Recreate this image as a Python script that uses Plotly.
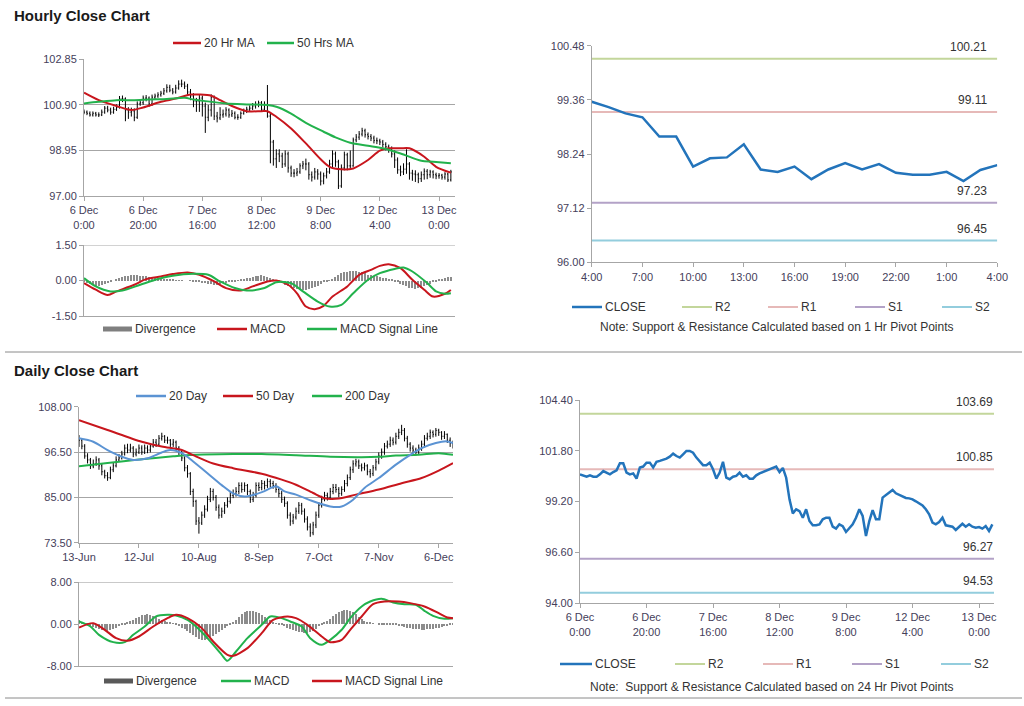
import plotly.graph_objects as go

W, H = 1024, 706
def px(x): return x / W
def py(y): return 1 - y / H

# ======================= DATA =======================
hourly_tick_hours = [0, 20, 40, 60, 80, 100, 120]
hourly_tick_labels = ["6 Dec<br>0:00", "6 Dec<br>20:00", "7 Dec<br>16:00", "8 Dec<br>12:00",
                      "9 Dec<br>8:00", "12 Dec<br>4:00", "13 Dec<br>0:00"]

hourly_first_open = 100.62
hourly_close = [100.59, 100.54, 100.47, 100.54, 100.47, 100.47, 100.59, 100.76, 100.68, 100.59,
                100.71, 100.80, 101.16, 101.16, 100.68, 100.59, 100.64, 100.37, 100.94, 100.99,
                101.19, 101.19, 100.94, 101.23, 101.28, 101.33, 101.40, 101.50, 101.65, 101.53,
                101.45, 101.62, 101.79, 101.79, 101.70, 101.45, 101.28, 101.06, 101.06, 101.19,
                100.85, 100.37, 100.68, 101.23, 100.42, 100.34, 100.47, 100.51, 100.68, 100.47,
                100.54, 100.37, 100.37, 100.54, 100.64, 100.71, 100.76, 100.85, 100.92, 100.99,
                100.71, 100.92, 100.42, 99.31, 98.59, 98.80, 98.71, 98.37, 98.80, 98.20,
                97.98, 97.98, 98.03, 98.29, 98.37, 98.37, 97.91, 97.81, 98.03, 97.94,
                97.64, 97.86, 98.03, 98.37, 98.80, 98.46, 97.43, 98.20, 98.76, 98.29,
                98.29, 99.40, 99.52, 99.65, 99.79, 99.62, 99.55, 99.48, 99.38, 99.36,
                99.31, 99.21, 99.11, 99.00, 98.80, 98.54, 98.12, 98.03, 98.15, 98.37,
                97.98, 97.94, 97.91, 97.74, 97.91, 98.06, 97.91, 98.03, 97.91, 97.86,
                97.89, 97.81, 97.94, 97.69, 98.03]
hourly_high = [100.70, 100.66, 100.62, 100.62, 100.60, 100.58, 100.70, 100.85, 100.86, 100.78,
               100.82, 100.92, 101.28, 101.30, 101.22, 100.80, 100.78, 100.75, 101.05, 101.10,
               101.30, 101.32, 101.26, 101.34, 101.38, 101.44, 101.50, 101.62, 101.78, 101.76,
               101.62, 101.76, 101.95, 101.98, 101.90, 101.80, 101.58, 101.40, 101.20, 101.35,
               101.30, 101.00, 100.90, 101.35, 101.30, 100.60, 100.80, 100.70, 100.80, 100.75,
               100.68, 100.62, 100.50, 100.62, 100.74, 100.82, 100.88, 100.98, 101.05, 101.08,
               101.06, 101.05, 101.75, 100.55, 99.40, 99.00, 99.00, 98.85, 98.95, 98.90,
               98.30, 98.15, 98.20, 98.40, 98.50, 98.60, 98.45, 98.05, 98.20, 98.15,
               98.05, 98.00, 98.20, 98.55, 98.95, 98.90, 98.55, 98.35, 98.90, 98.85,
               98.95, 99.50, 99.65, 99.78, 99.92, 99.88, 99.72, 99.65, 99.58, 99.50,
               99.45, 99.40, 99.30, 99.20, 99.12, 98.95, 98.65, 98.30, 98.40, 99.00,
               98.45, 98.12, 98.10, 98.00, 98.05, 98.18, 98.15, 98.12, 98.10, 98.00,
               97.98, 97.95, 98.02, 98.00, 98.12]
hourly_low = [100.50, 100.46, 100.40, 100.40, 100.40, 100.38, 100.42, 100.52, 100.58, 100.48,
              100.52, 100.64, 100.74, 101.02, 100.20, 100.30, 100.40, 100.20, 100.30, 100.86,
              100.90, 101.05, 100.82, 100.86, 101.14, 101.20, 101.25, 101.32, 101.42, 101.44,
              101.35, 101.38, 101.55, 101.66, 101.58, 101.30, 101.10, 100.80, 100.60, 100.60,
              100.40, 99.70, 100.20, 100.40, 100.25, 100.15, 100.25, 100.35, 100.40, 100.35,
              100.38, 100.28, 100.26, 100.30, 100.48, 100.55, 100.62, 100.68, 100.74, 100.80,
              100.62, 100.65, 100.35, 98.40, 98.30, 98.20, 98.45, 98.20, 98.25, 98.00,
              97.82, 97.80, 97.85, 97.95, 98.15, 98.10, 97.70, 97.62, 97.70, 97.70,
              97.45, 97.50, 97.75, 97.95, 98.20, 98.25, 97.30, 97.35, 98.10, 98.10,
              98.15, 98.25, 99.30, 99.40, 99.55, 99.50, 99.42, 99.35, 99.25, 99.22,
              99.18, 99.08, 98.95, 98.85, 98.65, 98.20, 97.95, 97.85, 97.90, 97.95,
              97.70, 97.65, 97.60, 97.55, 97.60, 97.70, 97.72, 97.78, 97.75, 97.72,
              97.74, 97.70, 97.70, 97.60, 97.62]

ma20h_hours = [0, 5, 11, 16, 20, 26, 31, 36, 39, 43, 46, 50, 55, 60, 62, 65, 70, 75, 80, 83,
               87, 91, 96, 100, 103, 107, 110, 115, 119, 124]
ma20h_vals = [101.42, 101.10, 100.85, 100.68, 100.79, 101.03, 101.17, 101.34, 101.34, 101.29,
              101.10, 100.85, 100.63, 100.63, 100.63, 100.39, 99.89, 99.25, 98.57, 98.25,
              98.14, 98.18, 98.54, 98.94, 99.04, 99.04, 99.04, 98.68, 98.25, 98.00]
ma50h_hours = [0, 5, 11, 17, 22, 28, 34, 37, 41, 48, 55, 62, 65, 70, 75, 81, 85, 90, 96, 101,
               107, 114, 118, 124]
ma50h_vals = [100.96, 101.03, 101.10, 101.10, 101.13, 101.15, 101.20, 101.13, 101.06, 100.96,
              100.92, 100.89, 100.82, 100.53, 100.13, 99.75, 99.51, 99.28, 99.15, 99.04,
              98.82, 98.51, 98.47, 98.40]

macdh_hours = [0, 4, 8, 11, 17, 21, 26, 30, 35, 39, 44, 48, 53, 57, 62, 65, 69, 72, 75, 78,
               81, 84, 89, 93, 97, 100, 103, 107, 111, 115, 118, 122, 124]
macdh_vals = [-0.11, -0.39, -0.61, -0.46, -0.18, 0.06, 0.17, 0.27, 0.34, 0.24, -0.04, -0.32,
              -0.42, -0.25, -0.04, 0.00, -0.18, -0.54, -1.10, -1.21, -1.07, -0.68, -0.25, 0.24,
              0.45, 0.62, 0.69, 0.52, 0.03, -0.39, -0.68, -0.56, -0.40]
signalh_hours = [0, 4, 9, 13, 19, 25, 30, 37, 42, 46, 51, 55, 61, 65, 70, 74, 79, 83, 87, 91,
                 96, 100, 105, 108, 111, 116, 119, 122, 124]
signalh_vals = [0.10, -0.25, -0.46, -0.42, -0.18, 0.06, 0.20, 0.28, 0.24, -0.04, -0.32, -0.42,
                -0.32, -0.07, -0.11, -0.46, -0.89, -1.10, -1.03, -0.54, 0.03, 0.31, 0.49, 0.55,
                0.38, -0.11, -0.46, -0.56, -0.54]
divergence_h = [-0.05, -0.10, -0.15, -0.20,
                -0.22, -0.22, -0.20, -0.15, -0.10,
                -0.05, 0.00, 0.05,
                0.10, 0.15, 0.18, 0.20, 0.22, 0.22,
                0.22, 0.20, 0.20, 0.18, 0.15, 0.12, 0.10,
                0.08, 0.06, 0.05, 0.05, 0.04, 0.03, 0.02, 0.02,
                0.02, 0.00, 0.00, -0.02, -0.03, -0.05, -0.06,
                -0.10, -0.12, -0.15, -0.15, -0.17, -0.18, -0.15, -0.12, -0.10, -0.08, -0.05, -0.04, 0.02,
                0.05, 0.08, 0.10, 0.12, 0.15, 0.18, 0.20, 0.22, 0.20, 0.15, 0.10, 0.05,
                -0.02, -0.08, -0.12, -0.18, -0.22, -0.28, -0.30, -0.35, -0.38, -0.40, -0.42, -0.38,
                -0.33, -0.28, -0.22, -0.15, -0.08, -0.03, 0.02, 0.08,
                0.15, 0.22, 0.30, 0.35, 0.38, 0.40, 0.42, 0.40, 0.38, 0.35, 0.30, 0.25, 0.22, 0.20,
                0.18, 0.15, 0.12, 0.10, 0.06, 0.03,
                -0.03, -0.08, -0.15, -0.20, -0.25, -0.30, -0.33, -0.35, -0.33, -0.30, -0.25, -0.20,
                -0.15, -0.08,
                -0.03, 0.03, 0.08, 0.10, 0.13, 0.15]

pivot1_tick_hours = [0, 3, 6, 9, 12, 15, 18, 21, 24]
pivot1_tick_labels = ["4:00", "7:00", "10:00", "13:00", "16:00", "19:00", "22:00", "1:00", "4:00"]
pivot1_close = [99.32, 99.21, 99.08, 99.00, 98.60, 98.60, 97.98, 98.15, 98.17, 98.44,
                97.92, 97.87, 97.98, 97.72, 97.92, 98.05, 97.92, 98.03, 97.85, 97.81,
                97.81, 97.87, 97.68, 97.91, 98.01]
level_names = ["R2", "R1", "S1", "S2"]
pivot1_levels = [100.21, 99.11, 97.23, 96.45]
pivot24_levels = [103.69, 100.85, 96.27, 94.53]

daily_tick_days = [0, 21, 42, 63, 84, 105, 126]
daily_tick_labels = ["13-Jun", "12-Jul", "10-Aug", "8-Sep", "7-Oct", "7-Nov", "6-Dec"]
daily_first_open = 100.0
daily_close = [99.5, 98.0, 95.5, 94.5, 93.0, 93.5, 94.5, 93.0, 91.5, 90.5,
               90.0, 92.0, 93.0, 94.5, 95.0, 96.0, 97.5, 97.0, 97.5, 96.0,
               96.5, 97.5, 96.5, 97.5, 97.0, 98.0, 99.0, 98.5, 100.0, 100.5,
               99.5, 99.5, 98.5, 99.0, 97.5, 96.5, 95.0, 92.5, 91.0, 86.5,
               84.0, 79.0, 78.5, 80.5, 82.0, 84.5, 86.5, 85.0, 82.5, 80.5,
               81.5, 83.0, 84.0, 85.5, 86.0, 86.5, 88.0, 87.0, 88.0, 86.5,
               84.5, 85.5, 88.0, 87.5, 88.5, 88.0, 89.0, 88.5, 88.0, 87.0,
               86.0, 84.5, 83.5, 80.5, 79.0, 80.0, 81.5, 83.0, 81.5, 79.5,
               77.5, 76.0, 78.0, 80.5, 83.0, 84.5, 85.5, 85.0, 86.5, 87.5,
               87.0, 86.0, 87.0, 88.5, 90.0, 92.0, 93.5, 94.0, 93.0, 92.5,
               93.0, 91.5, 91.0, 92.5, 94.0, 95.5, 96.5, 98.0, 98.5, 99.5,
               99.0, 100.5, 101.5, 102.0, 100.0, 98.5, 97.5, 97.0, 96.5, 97.5,
               98.5, 100.0, 100.5, 101.5, 101.0, 102.0, 101.5, 100.5, 101.0, 99.5,
               98.8, 98.2]
daily_high = [100.8, 100.0, 98.5, 96.2, 95.0, 94.6, 95.4, 95.0, 93.6, 92.0,
              91.4, 92.8, 93.8, 95.4, 96.0, 96.8, 98.4, 98.6, 98.6, 98.0,
              97.4, 98.4, 98.2, 98.4, 98.2, 98.8, 99.8, 99.8, 100.8, 101.4,
              100.8, 100.4, 99.8, 99.8, 99.4, 98.0, 97.0, 95.4, 93.2, 91.4,
              87.2, 84.4, 80.0, 81.4, 83.0, 85.4, 87.4, 87.2, 85.6, 83.2,
              82.4, 83.8, 85.0, 86.4, 87.0, 87.6, 88.8, 88.8, 88.8, 88.4,
              87.0, 86.4, 88.8, 88.8, 89.4, 89.2, 89.8, 89.6, 89.2, 88.6,
              87.6, 86.6, 85.2, 84.0, 81.2, 80.8, 82.4, 83.8, 83.6, 82.2,
              80.2, 78.4, 78.8, 81.4, 83.8, 85.4, 86.4, 86.2, 87.4, 88.4,
              88.4, 87.6, 87.8, 89.4, 90.8, 92.8, 94.4, 94.8, 94.6, 93.6,
              93.8, 93.4, 92.2, 93.2, 94.8, 96.4, 97.4, 98.8, 99.4, 100.4,
              100.2, 101.4, 102.4, 103.4, 102.6, 100.6, 99.0, 98.2, 97.6, 98.4,
              99.4, 100.8, 101.4, 102.2, 102.0, 102.6, 102.4, 101.8, 101.8, 101.2,
              100.2, 99.4]
daily_low = [97.8, 97.2, 94.8, 93.6, 92.2, 92.4, 93.0, 92.0, 90.6, 89.8,
             89.2, 89.6, 91.4, 92.6, 94.0, 94.6, 95.6, 96.2, 96.4, 95.2,
             95.4, 96.0, 95.8, 96.0, 96.2, 96.4, 97.6, 97.8, 98.0, 99.4,
             98.8, 98.6, 97.8, 97.8, 96.8, 95.6, 94.2, 91.6, 90.0, 85.6,
             82.6, 78.0, 75.8, 78.0, 79.8, 81.4, 83.8, 84.2, 81.6, 79.6,
             79.8, 80.8, 82.4, 83.4, 84.8, 85.2, 85.8, 86.2, 86.4, 85.6,
             83.6, 83.8, 85.0, 86.6, 86.8, 87.0, 87.4, 87.6, 87.2, 86.2,
             85.0, 83.6, 82.6, 79.6, 77.8, 78.2, 79.4, 80.8, 80.6, 78.6,
             76.6, 75.0, 75.4, 77.2, 79.8, 82.4, 84.0, 84.2, 84.4, 85.8,
             86.2, 85.0, 85.4, 86.4, 87.8, 89.4, 91.2, 92.8, 92.2, 91.6,
             91.8, 90.6, 90.0, 90.4, 91.8, 93.4, 94.8, 95.8, 97.4, 97.8,
             98.2, 98.4, 99.8, 100.8, 99.2, 97.6, 96.6, 96.2, 95.6, 95.8,
             96.8, 97.8, 99.4, 99.8, 100.2, 100.4, 100.6, 99.6, 99.8, 98.8,
             97.8, 97.4]

ma20d_days = [0, 5, 10, 15, 19, 24, 29, 32, 36, 40, 45, 50, 54, 58, 61, 65, 69, 72, 76, 82,
              88, 92, 96, 100, 105, 111, 116, 120, 125, 129, 131]
ma20d_vals = [99.97, 99.1, 97.0, 95.3, 94.5, 94.9, 96.4, 97.0, 96.2, 94.1, 91.1, 88.1, 86.0,
              85.2, 85.6, 86.6, 87.8, 86.5, 85.7, 84.0, 82.7, 82.7, 84.4, 87.4, 89.9, 93.3,
              95.8, 97.5, 98.8, 99.2, 98.8]
ma50d_days = [0, 10, 22, 29, 36, 40, 47, 54, 64, 71, 76, 82, 86, 91, 97, 105, 113, 120, 126, 131]
ma50d_vals = [104.6, 102.1, 99.1, 97.9, 97.0, 95.7, 93.6, 92.4, 91.0, 89.5, 88.2, 86.1, 84.8,
              84.7, 85.7, 87.0, 88.6, 89.9, 91.8, 93.7]
ma200d_days = [0, 10, 21, 33, 40, 54, 64, 76, 88, 99, 105, 111, 119, 126, 131]
ma200d_vals = [92.9, 93.7, 94.6, 95.4, 95.8, 96.0, 96.0, 95.7, 95.3, 95.2, 95.3, 95.6, 95.8,
               96.2, 95.8]

macdd_days = [0, 4, 7, 12, 16, 19, 23, 27, 31, 34, 38, 41, 45, 50, 52, 55, 59, 64, 67, 71,
              74, 78, 81, 85, 88, 92, 95, 99, 102, 106, 110, 114, 118, 121, 124, 128, 131]
macdd_vals = [0.51, -0.45, -2.04, -3.44, -3.44, -2.04, -0.45, 1.47, 1.78, 1.66, 0.83, -0.45,
              -2.68, -5.86, -7.01, -5.23, -2.68, -0.13, 1.47, 1.15, 0.51, -0.45, -2.68, -3.95,
              -3.0, -1.08, 1.15, 3.38, 4.33, 4.84, 4.14, 3.82, 3.70, 2.55, 1.59, 1.02, 1.15]
signald_days = [0, 5, 9, 13, 17, 21, 26, 31, 34, 38, 43, 47, 52, 54, 59, 64, 68, 73, 76, 80,
                85, 88, 92, 95, 99, 103, 107, 112, 116, 121, 126, 129, 131]
signald_vals = [-0.64, 0.19, -1.08, -2.68, -3.19, -2.36, -0.45, 1.15, 1.78, 1.15, -0.76, -3.31,
                -5.86, -6.05, -4.59, -1.72, 0.83, 1.47, 1.15, -0.13, -2.36, -3.44, -3.0, -1.08,
                1.47, 3.82, 4.33, 4.33, 4.02, 3.38, 2.10, 1.27, 1.15]
divergence_d = [0.8, 0.3, 0.0,
                -0.2, -0.4, -0.6, -0.8, -1.0, -1.1, -1.2, -1.3, -1.2, -1.0, -0.8, -0.5, -0.3, -0.1,
                0.2, 0.5, 0.8, 1.1, 1.4, 1.6, 1.7, 1.8, 1.7, 1.5, 1.3, 1.0, 0.8, 0.6, 0.4, 0.2, 0.1,
                -0.2, -0.4, -0.7, -1.0, -1.4, -1.8, -2.2, -2.6, -2.9, -3.0, -3.0, -2.8, -2.6, -2.3,
                -2.0, -1.6, -1.2, -0.8, -0.5, -0.2,
                0.3, 0.8, 1.3, 1.8, 2.2, 2.5, 2.5, 2.4, 2.2, 2.0, 1.7, 1.4, 1.0, 0.7, 0.4, 0.1,
                -0.1, -0.3, -0.5, -0.7, -0.9, -1.1, -1.3, -1.5, -1.6, -1.7, -1.7, -1.6, -1.3, -0.9, -0.4,
                -0.1, 0.2, 0.6, 1.0, 1.5, 1.9, 2.2, 2.5, 2.6, 2.7, 2.5, 2.2, 1.8, 1.3, 0.9, 0.5, 0.3,
                0.2, 0.1, 0.0, -0.1, -0.2, -0.2, -0.3, -0.3, -0.2, -0.3, -0.4, -0.5, -0.6, -0.7,
                -0.8, -0.9, -1.0, -1.0, -1.1, -1.1, -1.0, -1.0, -0.9, -0.8, -0.7, -0.6, -0.5, -0.4,
                -0.3, -0.2]

# ======================= STYLE =======================
FONT = "Liberation Sans, Arial, sans-serif"
TICK_COLOR = "#45405a"
AXIS_COLOR = "#a6a6a6"
RED = "#c8161d"
GREEN = "#22b24c"
BLUE20 = "#5b93d3"
CLOSE_BLUE = "#2374bb"
DIV_GRAY = "#8c8c8c"
LEVEL_COLORS = ["#c3d69b", "#e6b9b8", "#b3a2c7", "#93cddd"]

hours = list(range(len(hourly_close)))
days = list(range(len(daily_close)))
hourly_open = [hourly_first_open] + hourly_close[:-1]
daily_open = [daily_first_open] + daily_close[:-1]
p1_hours = list(range(len(pivot1_close)))

HX_END = 125.4
FX_END = 124.5
DX_END = 131

fig = go.Figure()

# ---- Panel A: hourly OHLC + MAs
fig.add_trace(go.Ohlc(x=hours, open=hourly_open, high=hourly_high, low=hourly_low, close=hourly_close,
                      increasing=dict(line=dict(color="black", width=1)),
                      decreasing=dict(line=dict(color="black", width=1)),
                      tickwidth=0.3, xaxis="x", yaxis="y", showlegend=False))
fig.add_trace(go.Scatter(x=ma20h_hours, y=ma20h_vals, mode="lines", name="20 Hr MA",
                         line=dict(color=RED, width=2, shape="spline", smoothing=0.8),
                         xaxis="x", yaxis="y", showlegend=False))
fig.add_trace(go.Scatter(x=ma50h_hours, y=ma50h_vals, mode="lines", name="50 Hrs MA",
                         line=dict(color=GREEN, width=2, shape="spline", smoothing=0.8),
                         xaxis="x", yaxis="y", showlegend=False))

# ---- Panel B: hourly MACD
fig.add_trace(go.Bar(x=hours, y=divergence_h, width=0.4, marker=dict(color=DIV_GRAY, line=dict(width=0)),
                     name="Divergence", xaxis="x2", yaxis="y2", showlegend=False))
fig.add_trace(go.Scatter(x=macdh_hours, y=macdh_vals, mode="lines", name="MACD",
                         line=dict(color=RED, width=2, shape="spline", smoothing=0.8),
                         xaxis="x2", yaxis="y2", showlegend=False))
fig.add_trace(go.Scatter(x=signalh_hours, y=signalh_vals, mode="lines", name="MACD Signal Line",
                         line=dict(color=GREEN, width=2, shape="spline", smoothing=0.8),
                         xaxis="x2", yaxis="y2", showlegend=False))

# ---- Panel C: 1 hr pivots
for name, lev, col in zip(level_names, pivot1_levels, LEVEL_COLORS):
    fig.add_trace(go.Scatter(x=[0, p1_hours[-1]], y=[lev, lev], mode="lines", name=name,
                             line=dict(color=col, width=2), xaxis="x3", yaxis="y3", showlegend=False))
fig.add_trace(go.Scatter(x=p1_hours, y=pivot1_close, mode="lines", name="CLOSE",
                         line=dict(color=CLOSE_BLUE, width=2.5), xaxis="x3", yaxis="y3", showlegend=False))

# ---- Panel D: daily OHLC + MAs
fig.add_trace(go.Ohlc(x=days, open=daily_open, high=daily_high, low=daily_low, close=daily_close,
                      increasing=dict(line=dict(color="black", width=1)),
                      decreasing=dict(line=dict(color="black", width=1)),
                      tickwidth=0.3, xaxis="x4", yaxis="y4", showlegend=False))
fig.add_trace(go.Scatter(x=ma200d_days, y=ma200d_vals, mode="lines", name="200 Day",
                         line=dict(color=GREEN, width=2, shape="spline", smoothing=0.8),
                         xaxis="x4", yaxis="y4", showlegend=False))
fig.add_trace(go.Scatter(x=ma50d_days, y=ma50d_vals, mode="lines", name="50 Day",
                         line=dict(color=RED, width=2, shape="spline", smoothing=0.8),
                         xaxis="x4", yaxis="y4", showlegend=False))
fig.add_trace(go.Scatter(x=ma20d_days, y=ma20d_vals, mode="lines", name="20 Day",
                         line=dict(color=BLUE20, width=2, shape="spline", smoothing=0.8),
                         xaxis="x4", yaxis="y4", showlegend=False))

# ---- Panel E: daily MACD
fig.add_trace(go.Bar(x=days, y=divergence_d, width=0.4, marker=dict(color=DIV_GRAY, line=dict(width=0)),
                     name="Divergence", xaxis="x5", yaxis="y5", showlegend=False))
fig.add_trace(go.Scatter(x=macdd_days, y=macdd_vals, mode="lines", name="MACD",
                         line=dict(color=GREEN, width=2, shape="spline", smoothing=0.8),
                         xaxis="x5", yaxis="y5", showlegend=False))
fig.add_trace(go.Scatter(x=signald_days, y=signald_vals, mode="lines", name="MACD Signal Line",
                         line=dict(color=RED, width=2, shape="spline", smoothing=0.8),
                         xaxis="x5", yaxis="y5", showlegend=False))

# ---- Panel F: 24 hr pivots on hourly close
for name, lev, col in zip(level_names, pivot24_levels, LEVEL_COLORS):
    fig.add_trace(go.Scatter(x=[0, FX_END], y=[lev, lev], mode="lines", name=name,
                             line=dict(color=col, width=2), xaxis="x6", yaxis="y6", showlegend=False))
fig.add_trace(go.Scatter(x=hours, y=hourly_close, mode="lines", name="CLOSE",
                         line=dict(color=CLOSE_BLUE, width=2.5), xaxis="x6", yaxis="y6", showlegend=False))

# ======================= AXES =======================
def base_axis(**kw):
    d = dict(linecolor=AXIS_COLOR, linewidth=1, showline=True, zeroline=False, showgrid=False,
             ticks="outside", ticklen=4, tickcolor=AXIS_COLOR, fixedrange=True, automargin=False,
             tickfont=dict(family=FONT, size=11, color=TICK_COLOR))
    d.update(kw)
    return d

def fmt(vals):
    return ["%.2f" % v for v in vals]

yA = [97.00, 98.95, 100.90, 102.85]
yB = [-1.5, 0.0, 1.5]
yC = [96.00, 97.12, 98.24, 99.36, 100.48]
yD = [73.50, 85.00, 96.50, 108.00]
yE = [-8.0, 0.0, 8.0]
yF = [94.00, 96.60, 99.20, 101.80, 104.40]

layout_axes = dict(
    xaxis=base_axis(domain=[px(84), px(455)], anchor="y", range=[0, HX_END],
                    tickvals=hourly_tick_hours, ticktext=hourly_tick_labels,
                    rangeslider=dict(visible=False)),
    yaxis=base_axis(domain=[py(196), py(59.3)], anchor="x", range=[yA[0], yA[-1]],
                    tickvals=yA, ticktext=fmt(yA), showgrid=True, gridcolor=AXIS_COLOR),
    xaxis2=base_axis(domain=[px(84), px(455)], anchor="y2", range=[0, HX_END],
                     showticklabels=False, ticks=""),
    yaxis2=base_axis(domain=[py(316), py(245)], anchor="x2", range=[-1.5, 1.5],
                     tickvals=yB, ticktext=fmt(yB)),
    xaxis3=base_axis(domain=[px(591.7), px(997.3)], anchor="y3", range=[0, 24],
                     tickvals=pivot1_tick_hours, ticktext=pivot1_tick_labels),
    yaxis3=base_axis(domain=[py(262.3), py(45.7)], anchor="x3", range=[yC[0], yC[-1]],
                     tickvals=yC, ticktext=fmt(yC)),
    xaxis4=base_axis(domain=[px(79), px(453)], anchor="y4", range=[0, DX_END],
                     tickvals=daily_tick_days, ticktext=daily_tick_labels,
                     rangeslider=dict(visible=False)),
    yaxis4=base_axis(domain=[py(542.7), py(406.7)], anchor="x4", range=[yD[0], yD[-1]],
                     tickvals=yD, ticktext=fmt(yD), showgrid=True, gridcolor=AXIS_COLOR),
    xaxis5=base_axis(domain=[px(79), px(453)], anchor="y5", range=[0, DX_END],
                     showticklabels=False, ticks=""),
    yaxis5=base_axis(domain=[py(666), py(582.3)], anchor="x5", range=[-8, 8],
                     tickvals=yE, ticktext=fmt(yE)),
    xaxis6=base_axis(domain=[px(580), px(994)], anchor="y6", range=[0, FX_END],
                     tickvals=hourly_tick_hours, ticktext=hourly_tick_labels),
    yaxis6=base_axis(domain=[py(603), py(400)], anchor="x6", range=[yF[0], yF[-1]],
                     tickvals=yF, ticktext=fmt(yF)),
)

shapes = []
annotations = []

# top gridlines of MACD panels
shapes.append(dict(type="line", xref="x2 domain", yref="y2", x0=0, x1=1, y0=1.5, y1=1.5,
                   line=dict(color=AXIS_COLOR, width=1)))
shapes.append(dict(type="line", xref="x5 domain", yref="y5", x0=0, x1=1, y0=8, y1=8,
                   line=dict(color=AXIS_COLOR, width=1)))

# separators
shapes.append(dict(type="line", xref="paper", yref="paper", x0=px(5), x1=px(1022), y0=py(352), y1=py(352),
                   line=dict(color="#8a8a8a", width=1)))
shapes.append(dict(type="line", xref="paper", yref="paper", x0=px(5), x1=px(1022), y0=py(698), y1=py(698),
                   line=dict(color="#8a8a8a", width=1)))

def text(x, y, s, size=12, anchor="left", color="#333333", bold=False):
    annotations.append(dict(x=px(x), y=py(y), xref="paper", yref="paper", text=("<b>%s</b>" % s) if bold else s,
                            showarrow=False, xanchor=anchor, yanchor="middle",
                            font=dict(family=FONT, size=size, color=color)))

def legend_item(x0, x1, y, color, width, label):
    shapes.append(dict(type="line", xref="paper", yref="paper", x0=px(x0), x1=px(x1), y0=py(y), y1=py(y),
                       line=dict(color=color, width=width)))
    text(x1 + 1, y, label)

text(12, 16, "Hourly Close Chart", size=15, color="#1a1a1a", bold=True)
text(12, 370, "Daily Close Chart", size=15, color="#1a1a1a", bold=True)

# legends panel A
legend_item(173, 201, 43, RED, 2.5, "20 Hr MA")
legend_item(267, 294, 43, GREEN, 2.5, "50 Hrs MA")
# legends panel B
legend_item(103, 132, 329, "#7f7f7f", 5, "Divergence")
legend_item(217, 247, 329, RED, 2.5, "MACD")
legend_item(307, 337, 329, GREEN, 2.5, "MACD Signal Line")
# legends panel C
legend_item(572, 602, 307, CLOSE_BLUE, 2.5, "CLOSE")
for (x0, nm, col) in zip([682, 768, 855, 942], level_names, LEVEL_COLORS):
    legend_item(x0, x0 + 30, 307, col, 2, nm)
text(777, 327, "Note: Support & Resistance Calculated based on 1 Hr Pivot Points", anchor="center")
# legends panel D
legend_item(136, 166, 396, BLUE20, 2.5, "20 Day")
legend_item(223, 253, 396, RED, 2.5, "50 Day")
legend_item(312, 342, 396, GREEN, 2.5, "200 Day")
# legends panel E
legend_item(104, 133, 681, "#595959", 5, "Divergence")
legend_item(221, 251, 681, GREEN, 2.5, "MACD")
legend_item(312, 342, 681, RED, 2.5, "MACD Signal Line")
# legends panel F
legend_item(560, 592, 664, CLOSE_BLUE, 2.5, "CLOSE")
for (x0, nm, col) in zip([675, 763, 852, 941], level_names, LEVEL_COLORS):
    legend_item(x0, x0 + 30, 664, col, 2, nm)
text(772, 687, "Note:  Support & Resistance Calculated based on 24 Hr Pivot Points", anchor="center")

# pivot value labels
for lev in pivot1_levels:
    annotations.append(dict(x=1, xref="x3 domain", y=lev, yref="y3", text="%.2f" % lev, showarrow=False,
                            xanchor="right", yanchor="bottom", yshift=3, xshift=-8,
                            font=dict(family=FONT, size=12, color="#333333")))
for lev in pivot24_levels:
    annotations.append(dict(x=1, xref="x6 domain", y=lev, yref="y6", text="%.2f" % lev, showarrow=False,
                            xanchor="right", yanchor="bottom", yshift=3, xshift=1,
                            font=dict(family=FONT, size=12, color="#333333")))

fig.update_layout(
    width=W, height=H, margin=dict(l=0, r=0, t=0, b=0, pad=0, autoexpand=False),
    autosize=False,
    paper_bgcolor="white", plot_bgcolor="white",
    font=dict(family=FONT, size=11, color="#333333"),
    showlegend=False, shapes=shapes, annotations=annotations,
    bargap=0, hovermode=False,
    **layout_axes
)

# remove the browser's default 8px page margin so the figure sits at the window origin
fig.write_html("out.html", config={"displayModeBar": False},
               post_script="document.body.style.margin='0px';document.body.style.padding='0px';"
                           "document.documentElement.style.overflow='hidden';")
